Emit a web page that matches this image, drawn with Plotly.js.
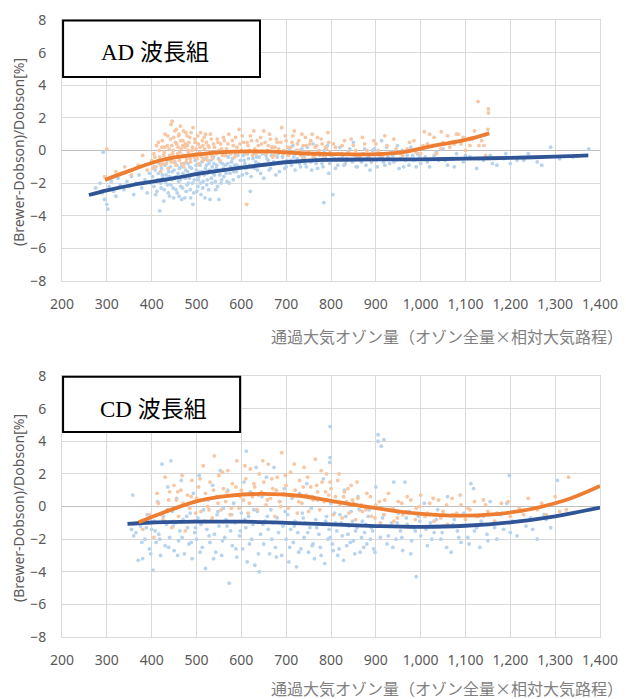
<!DOCTYPE html>
<html>
<head>
<meta charset="utf-8">
<script src="https://cdn.plot.ly/plotly-3.0.1.min.js"></script>
<style>html,body{margin:0;padding:0;background:#fff;}#chart{width:626px;height:699px;}</style>
</head>
<body>
<div id="chart"></div>
<script>
// ---------- DATA ----------
const xTickVals = [200,300,400,500,600,700,800,900,1000,1100,1200,1300,1400];
const yTickVals = [-8,-6,-4,-2,0,2,4,6,8];
const xTitle = "通過大気オゾン量（オゾン全量×相対大気路程）";
const yTitle = "(Brewer-Dobson)/Dobson[%]";
const panelLabels = ["AD 波長組", "CD 波長組"];

// AD panel: scatter (light blue / light orange) and trend curves
const adBluePts = [[275,-2.3],[285,-2.0],[290,-2.6],[292,-0.1],[295,-3.0],[300,-3.3],[302,-3.6],[305,-2.2],[310,-1.9],[315,-2.5],[320,-2.8],[325,-1.7],[330,-2.1],[338,-2.4],[345,-1.9],[350,-2.2],[355,-1.6],[360,-2.7],[365,-2.0],[372,-1.5],[378,-2.3],[385,-1.8],[390,-2.6],[395,-1.4],[398,-2.0],
[402,-1.6],[405,-2.2],[408,-1.2],[410,-1.9],[412,-2.5],[415,-1.4],[418,-3.7],[420,-2.0],[422,-1.1],[425,-1.7],[428,-2.4],[430,-0.9],[432,-1.5],[435,-2.1],[438,-1.3],[440,-2.8],[442,-1.0],[445,-1.8],[448,-2.3],[450,-1.2],[452,-0.7],[455,-1.6],[457,-2.6],[460,-1.9],[462,-1.1],[465,-2.2],[467,-3.0],[470,-1.4],[472,-0.8],[475,-1.7],[477,-2.5],[480,-1.3],[482,-2.0],[485,-1.0],[487,-2.9],[490,-1.5],[492,-3.3],[495,-1.8],[497,-0.6],[500,-1.2],[503,-2.2],[505,-1.6],[508,-0.9],[510,-2.7],[513,-1.3],[515,-1.9],[518,-0.5],[520,-1.1],[523,-2.1],[525,-1.4],[528,-0.8],[530,-3.0],[533,-1.7],[535,-1.0],[538,-0.4],[540,-1.5],[543,-2.4],[545,-0.9],[548,-1.2],[550,-3.0],[553,-0.7],[556,-1.8],[560,-1.1],[563,-0.3],[566,-1.4],[570,-0.8],[573,-2.0],[576,-1.0],[580,-0.5],[583,-1.3],[587,-0.2],[590,-0.9],[594,-1.6],[598,-0.6],
[600,-1.1],[604,-0.3],[608,-0.8],[612,-1.4],[616,-0.5],[620,-2.5],[624,-1.0],[628,-0.2],[632,-0.7],[636,-1.2],[640,-0.4],[645,-0.9],[650,-1.7],[655,-0.3],[660,-0.6],[665,-1.1],[670,0.2],[675,-0.8],[680,-0.4],[685,-1.3],[690,-0.1],[695,-0.7],[700,-1.0],[705,-0.3],[710,-0.6],[715,0.3],[720,-1.2],[725,-0.5],[730,-0.8],[735,0.1],[740,-0.4],[745,-1.0],[750,-0.2],[755,-0.7],[760,0.4],[765,-0.5],[770,-1.1],[775,-0.3],[780,-0.8],[784,-3.2],[785,0.0],[790,-0.6],[795,-1.4],[800,-0.2],[804,-2.7],[808,-0.5],[815,-0.9],[820,0.2],[826,-0.4],[832,-0.8],[838,-0.1],[845,-0.6],[850,0.5],[856,-1.0],[862,-0.3],[868,-0.7],[875,0.1],[880,-0.5],[887,-1.2],[893,0.0],[900,-0.6],[907,-0.2],[913,0.6],[920,-0.9],[927,-0.4],[934,-0.1],[940,-0.7],[948,0.3],[955,-0.5],[962,-1.0],[970,-0.3],[978,0.2],[985,-0.6],[993,-0.2],[1000,-0.8],[1010,-0.4],[1020,-1.0],[1030,-0.3],[1040,-0.6],[1050,0.1],[1060,-0.9],[1070,-0.5],[1080,-0.2],[1095,-0.7],[1110,-0.4],[1125,-1.1],[1140,-0.6],[1155,-0.3],[1170,-0.9],[1185,-0.5],[1200,-0.8],[1215,-0.6],[1240,-0.2],[1260,-0.7],[1290,0.2],[1340,-0.4],[1375,0.1],
[405,-1.0],[409,-2.7],[413,-1.8],[417,-0.8],[421,-2.3],[424,-1.5],[427,-3.1],[431,-1.9],[434,-0.6],[437,-2.6],[439,-1.6],[443,-2.1],[446,-1.3],[449,-2.9],[451,-1.7],[454,-2.4],[456,-0.9],[459,-1.4],[461,-2.8],[464,-1.8],[466,-1.0],[469,-2.3],[471,-1.6],[474,-2.9],[476,-1.2],[479,-2.1],[481,-0.8],[484,-1.7],[486,-2.4],[489,-1.1],[491,-2.0],[494,-2.6],[496,-1.4],[499,-0.9],[501,-2.5],[504,-1.8],[507,-1.3],[509,-2.0],[512,-0.7],[514,-2.3],[517,-1.5],[519,-2.9],[522,-0.9],[524,-1.8],[527,-2.4],[529,-1.2],[532,-0.6],[534,-2.0],[537,-1.4],[539,-0.8],[542,-1.9],[544,-1.1],[547,-2.2],[549,-0.5],[552,-1.5],[555,-2.0],[558,-0.8],[561,-1.6],[564,-0.9],[568,-1.9],[571,-0.4],[575,-1.4],[578,-0.7],[582,-1.8],[585,-0.9],[589,-1.3],[592,-0.3],[596,-1.0],[602,-1.5],[606,-0.6],[610,-1.1],[614,-0.2],[618,-0.9],[622,-1.6],[626,-0.5],[630,-1.1],[634,-0.4],[638,-0.8],[643,-1.4],[647,-0.2],[652,-0.9],[657,-0.5],[662,-1.2],[667,-0.3],[672,-0.7],[677,-1.5],[682,-0.2],[687,-0.8],[692,-0.4],[697,-1.1],[702,-0.6],[707,0.1],[712,-0.9],[717,-0.4],[722,-0.7],[727,-0.1],[732,-1.0],[737,-0.5],[742,-0.8],[747,0.2],[752,-0.6],[757,-1.2],[762,-0.3],[767,-0.8],[772,-0.1],[777,-0.6],[782,-1.0],[787,-0.4],[792,0.3],[797,-0.8],[803,-0.3],[810,-1.1],[817,-0.5],[823,-0.2],[829,-0.9],[835,-0.5],[842,0.1],[848,-0.7],[853,-0.3],[859,-1.0],[865,-0.5],[872,-0.2],[878,-0.9],[884,-0.4],[890,-0.7],[897,0.1],[903,-1.0],[910,-0.4],[917,-0.7],[924,0.2],[931,-0.8],[938,-0.3],[945,-0.6],[952,-1.1],[959,0.0],[966,-0.6],[974,-0.9],[982,-0.3],[990,-1.0],[998,-0.4],[1015,-0.7],[1035,-0.1],[1055,-0.6],[1075,-1.0],[1100,-0.3],[1130,-0.5],[1160,-0.8],[1190,-0.2],[1230,-0.6],[1270,-0.9],[1310,-0.5]];
const adOrangePts = [[295,-1.6],[300,0.1],[320,-1.3],[340,-1.0],[355,-1.5],[370,-0.9],[380,-0.3],[390,-1.2],[400,-0.6],[405,-0.2],[410,-1.0],[415,0.5],[418,-0.4],[420,-1.3],[423,0.2],[425,-0.8],[428,-0.1],[430,1.0],[432,-0.5],[435,0.3],[437,-1.1],[440,-0.3],[442,0.7],[444,-0.7],[446,1.8],[448,0.0],[450,-0.4],[452,1.2],[454,-0.9],[456,0.4],[458,-0.2],[460,0.9],[462,-0.6],[464,1.5],[466,0.1],[468,-0.3],[470,0.6],[472,-1.0],[474,0.2],[476,1.1],[478,-0.5],[480,0.3],[482,-0.1],[485,0.8],[487,-0.7],[490,0.0],[492,1.4],[495,-0.4],[497,0.5],[500,-0.2],[503,0.9],[505,-0.8],[508,0.2],[510,-0.3],[513,0.6],[515,-0.6],[518,0.1],[520,1.0],[523,-0.4],[526,0.3],[530,-0.1],[533,0.7],[536,-0.5],[540,0.2],[544,-0.2],[548,0.5],[552,-0.6],[556,0.1],[560,0.8],[565,-0.3],[570,0.4],[575,-0.1],[580,0.6],[585,-0.4],[590,0.2],[595,1.3],[600,0.0],[605,0.5],[610,-0.2],[612,-3.3],[615,0.3],[620,0.9],[625,-0.3],[630,0.1],[635,0.6],[640,-0.1],[645,0.4],[650,1.2],[655,-0.2],[660,0.3],[665,0.7],[670,-0.4],[675,0.2],[680,0.5],[685,-0.1],[690,1.4],[695,0.0],[700,0.6],[705,-0.3],[710,0.2],[715,0.9],[720,-0.2],[725,0.4],[730,0.0],[735,1.0],[740,-0.5],[745,0.3],[750,-0.1],[755,0.6],[760,-0.4],[765,0.2],[770,0.8],[775,-0.2],[780,0.4],[785,-0.6],[790,0.1],[795,0.5],[800,-0.3],[810,0.2],[820,-0.5],[830,0.6],[840,-0.1],[850,0.3],[860,-0.4],[870,0.8],[880,0.0],[890,-0.6],[900,0.4],[910,-0.2],[920,0.9],[930,-0.5],[945,0.1],[960,-0.3],[975,0.5],[990,-0.1],[1005,0.3],[1008,1.15],[1020,1.0],[1035,-0.2],[1046,1.15],[1050,0.5],[1065,0.2],[1080,1.0],[1084,1.0],[1090,0.4],[1100,0.0],[1115,0.7],[1128,3.0],[1130,0.3],[1136,0.6],[1141,0.3],[1145,-0.3],[1150,1.3],[1151,2.3],[1151,2.55],
[402,-1.1],[407,-0.4],[411,0.3],[414,-0.7],[417,0.0],[421,-0.9],[424,0.6],[427,-0.3],[429,0.2],[433,-0.8],[436,0.9],[439,0.1],[441,-0.6],[443,1.6],[445,0.3],[447,-0.2],[449,0.8],[451,-0.7],[453,0.5],[455,1.3],[457,-0.4],[459,0.2],[461,1.0],[463,-0.1],[465,0.6],[467,-0.8],[469,0.3],[471,1.2],[473,-0.3],[475,0.4],[477,-0.7],[479,0.9],[481,0.0],[483,0.5],[486,-0.5],[488,1.1],[491,0.2],[494,-0.3],[496,0.7],[499,0.1],[502,-0.5],[504,0.4],[507,-0.1],[509,1.1],[512,-0.4],[514,0.3],[517,0.8],[519,-0.2],[522,0.5],[525,-0.6],[528,0.2],[531,1.0],[534,-0.3],[538,0.4],[542,-0.1],[546,0.7],[550,0.0],[554,0.4],[558,-0.3],[562,0.6],[567,0.1],[572,1.0],[577,-0.2],[582,0.3],[587,0.8],[592,-0.2],[597,0.4],[602,0.9],[607,-0.1],[613,0.5],[618,0.0],[623,0.6],[628,1.2],[633,-0.2],[638,0.3],[643,0.8],[648,-0.1],[653,0.5],[658,0.0],[663,1.0],[668,0.2],[673,-0.3],[678,0.7],[683,0.1],[688,0.5],[693,-0.2],[698,0.9],[703,0.2],[708,-0.1],[713,0.5],[718,1.2],[723,0.0],[728,0.6],[733,-0.3],[738,0.3],[743,0.8],[748,-0.2],[753,0.4],[758,1.0],[763,-0.3],[768,0.3],[773,0.0],[778,0.7],[783,-0.4],[788,0.2],[793,1.1],[798,-0.1],[805,0.4],[815,-0.2],[825,0.3],[835,-0.6],[845,0.7],[855,0.0],[865,-0.3],[875,0.4],[885,-0.5],[895,0.6],[905,0.0],[915,-0.4],[925,0.3],[940,0.7],[955,-0.2],[970,0.1],[985,0.6],[1000,-0.2],[1015,0.4],[1030,0.8],[1045,0.1],[1060,0.9],[1075,0.4],[1095,0.8],[1110,0.3],[1120,1.2]];
const adBlueTrendX = [260,300,360,450,510,600,700,780,900,1000,1100,1200,1300,1374];
const adBlueTrendY = [-2.73,-2.45,-2.1,-1.7,-1.4,-1.05,-0.72,-0.58,-0.55,-0.54,-0.5,-0.45,-0.38,-0.3];
const adOrangeTrendX = [296,350,420,500,580,650,730,800,900,960,1030,1100,1153];
const adOrangeTrendY = [-1.8,-1.25,-0.6,-0.25,-0.07,-0.06,-0.17,-0.22,-0.23,-0.1,0.3,0.65,1.05];

// CD panel
const cdBluePts = [[355,-1.4],[358,0.7],[360,-1.8],[370,-3.3],[375,-1.2],[380,-3.2],[385,-2.0],[390,-0.5],[395,-2.6],[400,-1.4],[403,-3.9],[406,-0.9],[410,-2.2],[413,0.3],[416,-1.7],[420,-3.0],[423,2.6],[426,-0.6],[430,-2.4],[433,-1.1],[436,1.2],[440,-1.9],[443,2.8],[446,-0.3],[450,-2.7],[453,-1.0],[456,0.5],[460,-2.1],[463,-1.5],[466,1.6],[470,-0.8],[473,-2.9],[476,0.1],[480,-1.3],[483,-2.3],[486,-0.4],[490,-3.2],[493,0.8],[496,-1.6],[500,-2.0],[503,-0.7],[506,1.9],[510,-1.1],[513,-2.5],[516,-0.2],[520,-3.8],[523,-1.4],[526,0.4],[530,-2.2],[533,-0.9],[536,1.3],[540,-1.7],[543,-2.8],[546,-0.5],[550,-1.2],[553,2.2],[556,-3.0],[560,-0.1],[563,-1.9],[566,-0.8],[570,1.0],[573,-4.7],[576,-1.5],[580,-2.4],[583,0.2],[586,-1.0],[590,-3.1],[593,0.7],[596,-1.8],
[600,-0.4],[603,-2.6],[606,1.5],[610,-1.3],[611,3.4],[613,-3.4],[616,-0.6],[620,0.9],[623,-2.0],[626,-1.1],[630,-3.6],[633,2.4],[636,-0.3],[640,-4.0],[643,-1.7],[646,0.6],[650,-2.3],[653,-0.9],[656,1.8],[660,-1.4],[663,-2.9],[666,-0.2],[670,-1.0],[673,2.4],[676,-2.5],[680,-0.7],[683,-1.6],[686,0.3],[690,-3.0],[693,-1.2],[696,1.1],[700,-2.0],[703,-0.5],[706,-3.4],[710,-1.4],[713,0.5],[716,-2.2],[720,-0.9],[723,-3.7],[726,-1.6],[730,0.8],[733,-2.6],[736,-0.4],[740,-1.9],[743,-1.0],[746,1.4],[750,-2.8],[753,-1.3],[756,-0.1],[760,-2.3],[763,-3.2],[766,-0.8],[770,0.4],[773,-1.7],[776,-2.5],[780,-1.1],[783,1.7],[786,-3.5],[790,-0.6],[793,-2.0],[796,-1.4],[797,2.7],[798,4.9],[798,3.0],[800,0.2],[805,-2.7],[810,-1.0],[815,-3.0],[820,-0.5],[825,-1.8],[830,1.0],[835,-2.4],[840,-1.2],[845,-0.3],[850,-2.1],[855,-1.5],[860,0.6],[865,-2.8],[870,-0.9],[875,-1.6],[880,-2.3],[885,-0.2],[890,-1.3],[895,-2.6],[900,1.2],[905,4.4],[905,4.0],[910,-1.9],[912,3.7],[915,-0.7],[918,4.1],[925,-2.3],[935,-1.0],[940,1.5],[945,-2.0],[950,-0.4],[955,-1.5],[960,-2.7],[965,1.5],[970,-1.1],[975,-0.3],[980,-2.1],[985,-1.3],[990,-4.3],[995,-0.6],[1000,-1.8],[1008,0.2],[1015,-2.4],[1022,-1.0],[1030,-1.6],[1038,-0.2],[1045,-2.0],[1052,-1.2],[1060,0.6],[1068,-2.8],[1075,-0.8],[1082,-1.5],[1090,-2.2],[1097,-0.4],[1105,-1.9],[1112,1.4],[1118,1.1],[1125,-1.3],[1132,-2.5],[1140,-0.6],[1148,-1.7],[1155,0.3],[1162,-1.1],[1170,-2.0],[1178,-0.5],[1185,-1.4],[1192,0.2],[1198,1.9],[1205,-0.9],[1215,-1.8],[1225,-0.3],[1235,-1.2],[1245,-0.7],[1260,-2.0],[1275,-0.5],[1290,-1.3],[1305,1.6],
[365,-1.6],[372,-1.0],[378,-2.2],[388,-1.3],[398,-2.9],[408,-1.5],[418,-2.0],[428,-0.9],[438,-2.5],[448,-1.2],[458,-3.0],[468,-1.9],[478,-0.6],[488,-2.2],[498,-1.3],[508,-2.8],[518,-0.9],[528,-1.8],[538,-3.2],[548,-0.3],[558,-2.1],[568,-1.2],[578,-0.5],[588,-2.6],[598,-1.5],[608,-0.8],[618,-2.3],[628,-0.2],[638,-2.9],[648,-1.1],[658,-0.6],[668,-2.0],[678,-3.1],[688,-1.0],[698,-0.3],[708,-2.5],[718,-1.2],[728,-2.8],[738,-0.7],[748,-1.6],[758,-2.4],[768,-1.3],[778,-3.0],[788,-0.9],[798,-1.9],[803,-2.3],[808,-0.4],[813,-1.5],[818,-2.6],[823,-1.0],[828,-3.3],[833,-0.6],[838,-1.7],[843,-2.2],[848,-0.9],[853,-2.9],[858,-1.3],[863,-0.2],[868,-1.9],[873,-2.5],[878,-1.1],[883,-0.6],[888,-2.0],[893,-1.5],[898,-2.8],[908,-1.2],[918,-0.5],[928,-1.8],[938,-2.5],[948,-1.0],[958,-1.9],[968,-0.7],[978,-2.9],[988,-1.5],[998,-0.9],[1012,-1.4],[1025,-2.0],[1035,-0.8],[1048,-1.6],[1058,-2.5],[1072,-1.1],[1085,-1.9],[1095,-0.5],[1108,-2.3],[1120,-1.5],[1135,-0.9],[1150,-2.1],[1165,-1.3],[1182,-0.4],[1200,-1.6],[1220,-0.9],[1250,-1.4],[1280,-0.8]];
const cdOrangePts = [[380,-1.4],[395,-0.5],[405,-1.9],[415,0.2],[425,-0.8],[430,1.8],[435,-0.2],[440,0.9],[445,-1.3],[450,1.3],[455,0.4],[460,-0.6],[465,1.0],[470,0.2],[475,-1.5],[480,0.7],[485,-0.1],[490,1.6],[495,-0.9],[500,0.5],[505,1.2],[510,-0.3],[515,2.5],[520,0.8],[525,0.0],[530,1.5],[535,-0.7],[540,3.1],[545,0.6],[550,1.9],[555,-0.2],[560,1.1],[565,0.3],[570,2.2],[575,-0.5],[580,1.4],[585,0.7],[590,2.8],[595,-0.1],[600,1.0],[605,0.4],[610,1.7],[615,-0.4],[620,2.3],[625,0.6],[630,1.2],[635,-0.2],[640,2.0],[645,0.9],[650,1.5],[655,0.1],[660,2.6],[665,0.5],[670,1.1],[675,-0.6],[680,1.8],[685,0.3],[690,3.3],[695,0.8],[700,1.3],[705,-0.1],[710,2.1],[715,0.6],[720,1.0],[725,-0.4],[730,1.6],[735,0.2],[740,2.4],[745,0.7],[750,-0.3],[755,1.2],[760,0.4],[765,2.9],[770,0.9],[775,-0.2],[780,1.5],[785,0.3],[790,2.0],[795,0.7],[800,1.1],[805,-0.5],[810,0.6],[815,1.6],[820,0.1],[825,-0.7],[830,0.9],[835,0.3],[840,-0.4],[845,1.3],[850,0.2],[855,-0.8],[860,0.5],[870,-0.3],[880,0.8],[890,-0.6],[900,0.1],[910,-1.0],[920,0.4],[930,-0.2],[940,-0.9],[950,0.3],[960,-0.5],[970,0.6],[980,-1.2],[990,-0.1],[1000,0.7],[1010,-0.6],[1020,0.2],[1030,-0.9],[1040,0.4],[1050,-0.3],[1060,-1.1],[1070,0.5],[1080,-0.4],[1090,0.1],[1100,-0.8],[1110,-0.2],[1120,0.3],[1130,-0.6],[1140,0.4],[1150,-0.3],[1165,-0.9],[1180,0.2],[1200,-0.6],[1220,-0.1],[1240,0.5],[1260,-0.2],[1280,-0.5],[1300,0.6],[1325,-0.2],[1330,1.8],
[412,0.8],[422,-0.5],[438,0.4],[448,-0.9],[458,0.9],[468,1.9],[478,0.1],[488,0.6],[498,-0.4],[508,1.7],[518,0.4],[528,-0.2],[538,1.0],[548,0.2],[558,2.1],[568,0.9],[578,-0.1],[588,1.2],[598,0.6],[608,2.5],[618,0.2],[628,1.4],[638,0.7],[648,2.8],[658,0.4],[668,1.7],[678,1.0],[688,0.0],[698,1.9],[708,0.7],[718,2.6],[728,0.3],[738,1.2],[748,1.8],[758,0.6],[768,1.3],[778,2.2],[788,0.9],[798,1.5],[808,0.3],[818,2.0],[828,0.6],[838,1.1],[848,0.4],[858,1.5],[868,0.1],[878,-0.2],[888,0.6],[898,-0.7],[908,0.3],[918,-0.5],[928,0.8],[938,-0.1],[948,-0.7],[958,0.2],[968,-0.3],[978,0.4],[988,-0.8],[998,0.0],[1015,-0.4],[1028,0.5],[1045,-0.7],[1058,0.1],[1072,-0.5],[1088,0.7],[1105,-0.1],[1125,-0.6],[1145,0.1],[1170,-0.4],[1195,0.3],[1230,-0.5],[1270,0.2],[1310,-0.3]];
const cdBlueTrendX = [346,400,500,600,700,800,900,1000,1100,1200,1300,1400];
const cdBlueTrendY = [-1.07,-0.98,-0.93,-0.93,-1.0,-1.1,-1.2,-1.25,-1.18,-0.97,-0.6,-0.07];
const cdOrangeTrendX = [371,431,506,570,640,729,800,878,989,1101,1213,1324,1400];
const cdOrangeTrendY = [-0.97,-0.32,0.36,0.65,0.77,0.66,0.35,-0.01,-0.42,-0.56,-0.32,0.4,1.26];

// ---------- STYLE ----------
const C = {
  ptBlue: "#b7d3ee", ptOrange: "#f7c6a3",
  lnBlue: "#2f5597", lnOrange: "#ed7d31",
  grid: "#d9d9d9", tick: "#595959", title: "#7f7f7f"
};

function pts(arr, xa, ya, color) {
  return {x: arr.map(p => p[0]), y: arr.map(p => p[1]), xaxis: xa, yaxis: ya,
    type: "scatter", mode: "markers", hoverinfo: "skip",
    marker: {color: color, size: 3.8, line: {width: 0}}};
}
function trend(xs, ys, xa, ya, color) {
  return {x: xs, y: ys, xaxis: xa, yaxis: ya, type: "scatter", mode: "lines",
    line: {color: color, width: 3.8, shape: "spline", smoothing: 1.0}, hoverinfo: "skip"};
}

const data = [
  pts(adBluePts, "x", "y", C.ptBlue),
  pts(adOrangePts, "x", "y", C.ptOrange),
  trend(adBlueTrendX, adBlueTrendY, "x", "y", C.lnBlue),
  trend(adOrangeTrendX, adOrangeTrendY, "x", "y", C.lnOrange),
  pts(cdBluePts, "x2", "y2", C.ptBlue),
  pts(cdOrangePts, "x2", "y2", C.ptOrange),
  trend(cdBlueTrendX, cdBlueTrendY, "x2", "y2", C.lnBlue),
  trend(cdOrangeTrendX, cdOrangeTrendY, "x2", "y2", C.lnOrange)
];

const tickFont = {family: "Noto Sans, Noto Sans CJK JP, sans-serif", size: 14, color: C.tick};
function xax(anchor) {
  return {anchor: anchor, domain: [0, 1], range: [200, 1400], tickvals: xTickVals,
    tickformat: ",d", showgrid: true, gridcolor: C.grid, gridwidth: 1,
    zeroline: false, showline: true, linecolor: C.grid, mirror: true,
    ticks: "", tickfont: tickFont, ticklabelstandoff: 10, fixedrange: true};
}
function yax(anchor, dom) {
  return {anchor: anchor, domain: dom, range: [-8, 8], tickvals: yTickVals,
    showgrid: true, gridcolor: C.grid, gridwidth: 1,
    zeroline: true, zerolinecolor: "#bfbfbf", zerolinewidth: 1,
    showline: true, linecolor: C.grid, mirror: true,
    ticks: "", tickfont: tickFont, ticklabelstandoff: 12, fixedrange: true};
}

const boxFont = {family: "Liberation Serif, Times New Roman, Noto Sans CJK JP, serif", size: 23, color: "#000"};
const ytFont = {family: "Noto Sans, sans-serif", size: 14, color: C.tick};
const xtFont = {family: "Noto Sans CJK JP, sans-serif", size: 16, color: C.title};

const layout = {
  width: 626, height: 699,
  margin: {l: 62, r: 26, t: 20, b: 62},
  paper_bgcolor: "#fff", plot_bgcolor: "#fff",
  showlegend: false,
  xaxis: xax("y"), yaxis: yax("x", [0.577, 1]),
  xaxis2: xax("y2"), yaxis2: yax("x2", [0, 0.423]),
  shapes: [
    {type: "rect", xref: "paper", yref: "paper", x0: 0.002, x1: 0.368, y0: 0.9076, y1: 0.999,
      line: {color: "#000", width: 2}, fillcolor: "#fff", layer: "above"},
    {type: "rect", xref: "paper", yref: "paper", x0: 0.002, x1: 0.331, y0: 0.3323, y1: 0.422,
      line: {color: "#000", width: 2}, fillcolor: "#fff", layer: "above"}
  ],
  annotations: [
    {text: panelLabels[0], xref: "paper", yref: "paper", x: 0.173, y: 0.948, showarrow: false,
      xanchor: "center", yanchor: "middle", font: boxFont},
    {text: panelLabels[1], xref: "paper", yref: "paper", x: 0.171, y: 0.3695, showarrow: false,
      xanchor: "center", yanchor: "middle", font: boxFont},
    {text: yTitle, xref: "paper", yref: "paper", x: -0.0818, y: 0.786, textangle: -90,
      showarrow: false, xanchor: "center", yanchor: "middle", font: ytFont},
    {text: yTitle, xref: "paper", yref: "paper", x: -0.0818, y: 0.209, textangle: -90,
      showarrow: false, xanchor: "center", yanchor: "middle", font: ytFont},
    {text: xTitle, xref: "paper", yref: "paper", x: 1.046, y: 0.4878, showarrow: false,
      xanchor: "right", yanchor: "middle", font: xtFont},
    {text: xTitle, xref: "paper", yref: "paper", x: 1.046, y: -0.0827, showarrow: false,
      xanchor: "right", yanchor: "middle", font: xtFont}
  ]
};

Plotly.newPlot("chart", data, layout, {staticPlot: true, displayModeBar: false});
</script>
</body>
</html>
